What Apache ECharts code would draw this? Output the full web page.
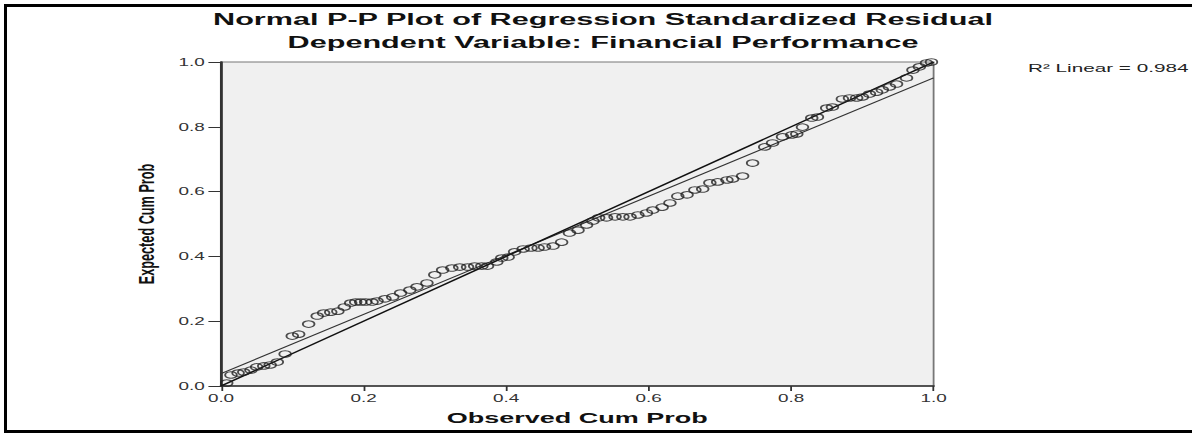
<!DOCTYPE html>
<html>
<head>
<meta charset="utf-8">
<title>Normal P-P Plot of Regression Standardized Residual</title>
<script src="https://cdn.jsdelivr.net/npm/echarts@6/dist/echarts.min.js"></script>
<style>
  html, body { margin: 0; padding: 0; background: #fff; overflow: hidden; }
  /* black frame round the whole figure, right side runs off the page */
  #frame { position: absolute; left: 4px; top: 4px; width: 1220px; height: 429px; border: 3px solid #000; box-sizing: border-box; }
  #chart { position: absolute; left: 0; top: 0; height: 436px; transform-origin: 0 0; }
</style>
</head>
<body>
<div id="frame"></div>
<div id="chart"></div>
<script>
// observed cumulative probability (x) of each residual
const observedCum = [
  0.008, 0.014, 0.024, 0.032, 0.042, 0.050, 0.060, 0.069, 0.079, 0.090,
  0.100, 0.109, 0.123, 0.135, 0.144, 0.154, 0.164, 0.173, 0.182, 0.189,
  0.196, 0.203, 0.212, 0.219, 0.230, 0.241, 0.252, 0.265, 0.275, 0.289,
  0.300, 0.311, 0.324, 0.335, 0.346, 0.356, 0.366, 0.374, 0.387, 0.394,
  0.403, 0.412, 0.424, 0.435, 0.445, 0.454, 0.466, 0.478, 0.489, 0.501,
  0.513, 0.522, 0.530, 0.541, 0.553, 0.564, 0.574, 0.585, 0.597, 0.606,
  0.619, 0.630, 0.641, 0.654, 0.665, 0.676, 0.686, 0.697, 0.710, 0.718,
  0.732, 0.746, 0.763, 0.774, 0.788, 0.801, 0.808, 0.816, 0.829, 0.837,
  0.850, 0.858, 0.872, 0.882, 0.892, 0.900, 0.910, 0.920, 0.928, 0.938,
  0.948, 0.962, 0.971, 0.980, 0.990, 0.997
];
// expected cumulative probability (y)
const expectedCum = [
  0.009, 0.034, 0.040, 0.043, 0.049, 0.059, 0.062, 0.065, 0.074, 0.099,
  0.154, 0.160, 0.191, 0.216, 0.225, 0.228, 0.231, 0.244, 0.256, 0.259,
  0.259, 0.259, 0.259, 0.262, 0.269, 0.275, 0.287, 0.296, 0.306, 0.318,
  0.343, 0.358, 0.364, 0.367, 0.367, 0.370, 0.370, 0.370, 0.383, 0.395,
  0.398, 0.414, 0.423, 0.426, 0.426, 0.429, 0.432, 0.444, 0.472, 0.481,
  0.497, 0.509, 0.519, 0.519, 0.522, 0.522, 0.522, 0.528, 0.534, 0.543,
  0.552, 0.565, 0.586, 0.590, 0.605, 0.608, 0.627, 0.630, 0.636, 0.639,
  0.648, 0.688, 0.738, 0.750, 0.769, 0.775, 0.778, 0.799, 0.827, 0.830,
  0.858, 0.861, 0.886, 0.889, 0.889, 0.892, 0.901, 0.907, 0.914, 0.923,
  0.932, 0.951, 0.975, 0.985, 0.997, 1.000
];
// reference diagonal and the fitted linear line (end points)
const diagonalLine = [[0, 0], [1, 1]];
const fitLine = [[0, 0.038], [1, 0.951]];
const tickValues = [0, 0.2, 0.4, 0.6, 0.8, 1.0];

const titleLines = [
  'Normal P-P Plot of Regression Standardized Residual',
  'Dependent Variable: Financial Performance'
];
const r2Label = 'R\u00B2 Linear = 0.984';

// the original picture is stretched sideways, so draw narrow and stretch the box
const STRETCH = 1.8;
const PAGE_W = 1192;
const FONT = '"Liberation Sans", Arial, Helvetica, sans-serif';

const chartDom = document.getElementById('chart');
chartDom.style.width = (PAGE_W / STRETCH) + 'px';
chartDom.style.transform = 'scaleX(' + STRETCH + ')';

const myChart = echarts.init(chartDom, null, { renderer: 'svg' });

const points = observedCum.map((x, i) => [x, expectedCum[i]]);

const option = {
  animation: false,
  textStyle: { fontFamily: FONT },
  graphic: [
    {
      type: 'text', x: 603 / STRETCH, y: 19,
      style: { text: titleLines[0], font: 'bold 17px ' + FONT, fill: '#111', textAlign: 'center', textVerticalAlign: 'middle', align: 'center', verticalAlign: 'middle' }
    },
    {
      type: 'text', x: 603 / STRETCH, y: 42,
      style: { text: titleLines[1], font: 'bold 17px ' + FONT, fill: '#111', textAlign: 'center', textVerticalAlign: 'middle', align: 'center', verticalAlign: 'middle' }
    },
    {
      type: 'text', x: 1028 / STRETCH, y: 68,
      style: { text: r2Label, font: '11.5px ' + FONT, fill: '#222', textAlign: 'left', textVerticalAlign: 'middle', align: 'left', verticalAlign: 'middle' }
    }
  ],
  grid: {
    left: 221 / STRETCH,
    right: (PAGE_W - 934) / STRETCH,
    top: 62,
    bottom: 50,
    show: true,
    backgroundColor: '#f0f0f0',
    borderColor: '#777',
    borderWidth: 1
  },
  xAxis: {
    type: 'value',
    min: 0,
    max: 1,
    interval: 0.2,
    name: 'Observed Cum Prob',
    nameLocation: 'middle',
    nameGap: 24,
    nameTextStyle: { fontFamily: FONT, fontWeight: 'bold', fontSize: 15, color: '#111' },
    axisLine: { lineStyle: { color: '#333', width: 1.6 } },
    axisTick: { show: true, length: 5, lineStyle: { color: '#333', width: 1 } },
    axisLabel: {
      margin: 7,
      fontSize: 10.5,
      color: '#333',
      showMinLabel: true,
      showMaxLabel: true,
      formatter: v => v.toFixed(1)
    },
    splitLine: { show: false }
  },
  yAxis: {
    type: 'value',
    min: 0,
    max: 1,
    interval: 0.2,
    name: 'Expected Cum Prob',
    nameLocation: 'middle',
    nameGap: 35,
    nameTextStyle: { fontFamily: FONT, fontWeight: 'bold', fontSize: 12.7, color: '#111' },
    axisLine: { lineStyle: { color: '#333', width: 1.6 } },
    axisTick: { show: true, length: 7, lineStyle: { color: '#333', width: 1 } },
    axisLabel: {
      margin: 9,
      fontSize: 10.5,
      color: '#333',
      showMinLabel: true,
      showMaxLabel: true,
      formatter: v => v.toFixed(1)
    },
    splitLine: { show: false }
  },
  series: [
    {
      name: 'Fit line',
      type: 'line',
      data: fitLine,
      showSymbol: false,
      silent: true,
      lineStyle: { color: '#333', width: 1 },
      z: 2
    },
    {
      name: 'Diagonal',
      type: 'line',
      data: diagonalLine,
      showSymbol: false,
      silent: true,
      lineStyle: { color: '#111', width: 1.3 },
      z: 2
    },
    {
      name: 'Residuals',
      type: 'scatter',
      data: points,
      symbol: 'circle',
      symbolSize: 6.5,
      itemStyle: { color: 'rgba(0,0,0,0)', borderColor: '#222', borderWidth: 1 },
      z: 3
    }
  ]
};

myChart.setOption(option);
</script>
</body>
</html>
